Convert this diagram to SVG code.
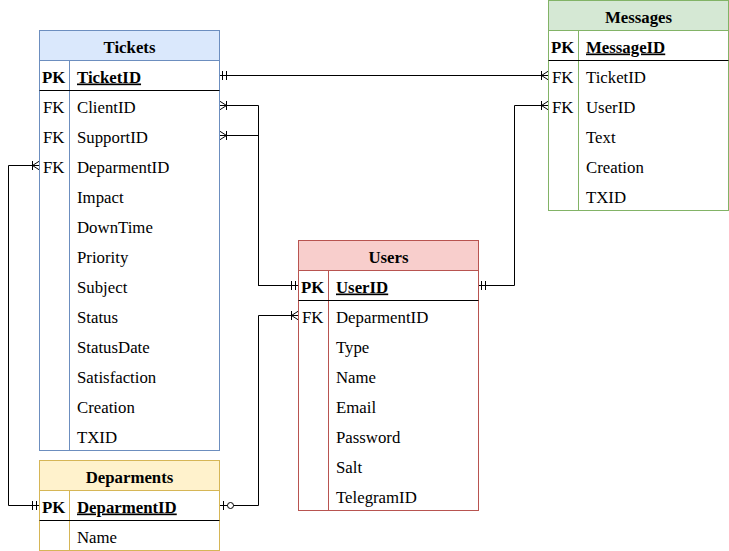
<svg xmlns="http://www.w3.org/2000/svg" width="729" height="551" viewBox="0 0 729 551">
<style>
text{font-family:"Liberation Serif","Times New Roman",serif;font-size:16.8px;fill:#000}
.h{font-weight:bold;text-anchor:middle}
.k{font-weight:bold}
.pk{font-weight:bold;text-decoration:underline}
.sep{stroke:#000;stroke-width:1}
.conn{fill:none;stroke:#000;stroke-width:1}
.body{fill:#fff}
</style>
<defs>
<marker id="mOne" markerUnits="userSpaceOnUse" markerWidth="20" markerHeight="20" refX="0" refY="0" viewBox="-15 -10 20 20" orient="auto-start-reverse" overflow="visible">
<path d="M-3,-4.5V4.5M-7,-4.5V4.5" fill="none" stroke="#000" stroke-width="1"/>
</marker>
<marker id="mMany" markerUnits="userSpaceOnUse" markerWidth="20" markerHeight="20" refX="0" refY="0" viewBox="-15 -10 20 20" orient="auto-start-reverse" overflow="visible">
<path d="M0,-4.5L-7,0L0,4.5M-7,-4.5V4.5" fill="none" stroke="#000" stroke-width="1"/>
</marker>
<marker id="mZeroOne" markerUnits="userSpaceOnUse" markerWidth="20" markerHeight="20" refX="0" refY="0" viewBox="-15 -10 20 20" orient="auto-start-reverse" overflow="visible">
<path d="M-4,-4.5V4.5" fill="none" stroke="#000" stroke-width="1"/>
<circle cx="-11" cy="0" r="3" fill="#fff" stroke="#000" stroke-width="1"/>
</marker>
</defs>
<rect width="729" height="551" fill="#fff"/>

<g id="connectors">
<path class="conn" d="M219.5,75.5H548.5" marker-start="url(#mOne)" marker-end="url(#mMany)"/>
<path class="conn" d="M219.5,105.5H258.5V285.5H298.5" marker-start="url(#mMany)" marker-end="url(#mOne)"/>
<path class="conn" d="M219.5,135.5H258.5V285.5H298.5" marker-start="url(#mMany)" marker-end="url(#mOne)"/>
<path class="conn" d="M548.5,105.5H514.5V285.5H478.5" marker-start="url(#mMany)" marker-end="url(#mOne)"/>
<path class="conn" d="M39.5,165.5H8.5V505.5H39.5" marker-start="url(#mMany)" marker-end="url(#mOne)"/>
<path class="conn" d="M298.5,315.5H258.5V505.5H219.5" marker-start="url(#mMany)" marker-end="url(#mZeroOne)"/>
</g>

<g id="tickets">
<rect class="body" x="39.5" y="30.5" width="180" height="420" stroke="#6c8ebf"/>
<rect x="39.5" y="30.5" width="180" height="30" fill="#dae8fc" stroke="#6c8ebf"/>
<line x1="69.5" y1="60.5" x2="69.5" y2="450.5" stroke="#6c8ebf"/>
<line class="sep" x1="39.5" y1="90.5" x2="219.5" y2="90.5"/>
<text class="h" x="129.5" y="52.5">Tickets</text>
<text class="k" x="42" y="82.5">PK</text>
<text class="pk" x="77" y="82.5">TicketID</text>
<text x="43" y="112.5">FK</text><text x="77" y="112.5">ClientID</text>
<text x="43" y="142.5">FK</text><text x="77" y="142.5">SupportID</text>
<text x="43" y="172.5">FK</text><text x="77" y="172.5">DeparmentID</text>
<text x="77" y="202.5">Impact</text>
<text x="77" y="232.5">DownTime</text>
<text x="77" y="262.5">Priority</text>
<text x="77" y="292.5">Subject</text>
<text x="77" y="322.5">Status</text>
<text x="77" y="352.5">StatusDate</text>
<text x="77" y="382.5">Satisfaction</text>
<text x="77" y="412.5">Creation</text>
<text x="77" y="442.5">TXID</text>
</g>

<g id="messages">
<rect class="body" x="548.5" y="0.5" width="180" height="210" stroke="#82b366"/>
<rect x="548.5" y="0.5" width="180" height="30" fill="#d5e8d4" stroke="#82b366"/>
<line x1="578.5" y1="30.5" x2="578.5" y2="210.5" stroke="#82b366"/>
<line class="sep" x1="548.5" y1="60.5" x2="728.5" y2="60.5"/>
<text class="h" x="638.5" y="22.5">Messages</text>
<text class="k" x="551" y="52.5">PK</text>
<text class="pk" x="586" y="52.5">MessageID</text>
<text x="552" y="82.5">FK</text><text x="586" y="82.5">TicketID</text>
<text x="552" y="112.5">FK</text><text x="586" y="112.5">UserID</text>
<text x="586" y="142.5">Text</text>
<text x="586" y="172.5">Creation</text>
<text x="586" y="202.5">TXID</text>
</g>

<g id="users">
<rect class="body" x="298.5" y="240.5" width="180" height="270" stroke="#b85450"/>
<rect x="298.5" y="240.5" width="180" height="30" fill="#f8cecc" stroke="#b85450"/>
<line x1="328.5" y1="270.5" x2="328.5" y2="510.5" stroke="#b85450"/>
<line class="sep" x1="298.5" y1="300.5" x2="478.5" y2="300.5"/>
<text class="h" x="388.5" y="262.5">Users</text>
<text class="k" x="301" y="292.5">PK</text>
<text class="pk" x="336" y="292.5">UserID</text>
<text x="302" y="322.5">FK</text><text x="336" y="322.5">DeparmentID</text>
<text x="336" y="352.5">Type</text>
<text x="336" y="382.5">Name</text>
<text x="336" y="412.5">Email</text>
<text x="336" y="442.5">Password</text>
<text x="336" y="472.5">Salt</text>
<text x="336" y="502.5">TelegramID</text>
</g>

<g id="departments">
<rect class="body" x="39.5" y="460.5" width="180" height="90" stroke="#d6b656"/>
<rect x="39.5" y="460.5" width="180" height="30" fill="#fff2cc" stroke="#d6b656"/>
<line x1="69.5" y1="490.5" x2="69.5" y2="550.5" stroke="#d6b656"/>
<line class="sep" x1="39.5" y1="520.5" x2="219.5" y2="520.5"/>
<text class="h" x="129.5" y="482.5">Deparments</text>
<text class="k" x="42" y="512.5">PK</text>
<text class="pk" x="77" y="512.5">DeparmentID</text>
<text x="77" y="542.5">Name</text>
</g>
</svg>
